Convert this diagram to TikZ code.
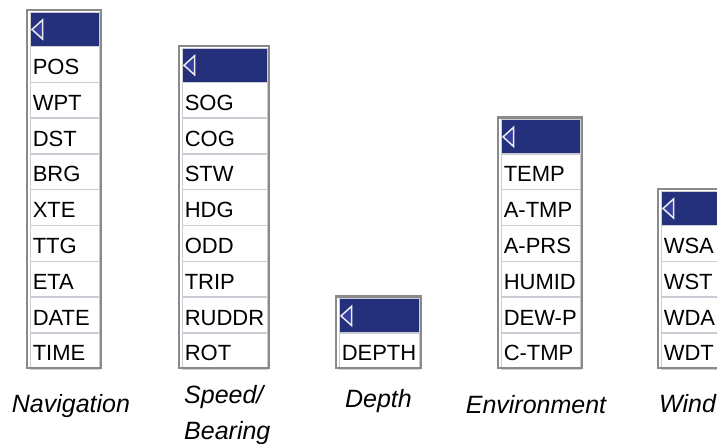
\documentclass[tikz,border=0pt]{standalone}
\usepackage{fontspec}
\setmainfont{Liberation Sans}
\usetikzlibrary{positioning}
\definecolor{hdrblue}{HTML}{25307C}
\definecolor{triblue}{HTML}{383E9E}
\definecolor{framegray}{HTML}{8A8A8A}
\definecolor{linegray}{HTML}{C8CDD4}
\tikzset{
  menuframe/.style={draw=framegray, line width=2.5bp},
  hdrbar/.style={fill=hdrblue, draw=linegray, line width=1bp, inner sep=0pt, anchor=north west},
  trimark/.style={draw=linegray!40!white, fill=triblue, line width=1.5bp, line join=miter},
  rowcell/.style={draw=linegray, line width=1.5bp, fill=white, anchor=north west,
    inner xsep=2.5bp, inner ysep=0pt, align=left, text height=20bp, text depth=0pt,
    font=\fontsize{22bp}{26bp}\selectfont},
  grouplbl/.style={inner sep=0pt, font=\fontsize{25bp}{36bp}\selectfont\itshape}
}
\begin{document}
\begin{tikzpicture}[x=1bp, y=-1bp]
  \clip (0,0) rectangle (717,444);
  \useasboundingbox (0,0) rectangle (717,444);
  % menu columns: name / left / width / rows / items, all end at y=368
  \foreach \nm/\lx/\bw/\n/\items in {
      nav/27/74/9/{POS,WPT,DST,BRG,XTE,TTG,ETA,DATE,TIME},
      spd/179/90/8/{SOG,COG,STW,HDG,ODD,TRIP,RUDDR,ROT},
      dpt/336/85/1/{DEPTH},
      env/498/84/6/{TEMP,A-TMP,A-PRS,HUMID,DEW-P,C-TMP},
      wnd/658/85/4/{WSA,WST,WDA,WDT}}
  {
    \pgfmathsetmacro\ty{368-35.8*(\n+1)}
    \pgfmathsetmacro\tw{\bw-10}
    \pgfmathsetmacro\cw{\bw-5}
    \node[hdrbar, minimum width=\cw bp, minimum height=34bp] (\nm-hdr) at (\lx+2.5,\ty+2) {};
    \draw[trimark] ([xshift=2.5bp]\nm-hdr.west) -- ++(10.5,-9.5) -- ++(0,19) -- cycle;
    \foreach \t [count=\i] in \items
      \node[rowcell, text width=\tw bp, minimum height=35.8bp] (\nm-\i) at (\lx+2.5,\ty+35.8*\i) {\t};
    \draw[menuframe] (\lx,\ty) rectangle (\lx+\bw,368);
  }
  % group names
  \node[grouplbl, anchor=base] (navlbl) at (71,412) {Navigation};
  \node[grouplbl, anchor=north west, align=left] (spdlbl) at (184,385.5) {Speed/\\Bearing};
  \node[grouplbl, anchor=base] (dptlbl) at (378.5,407) {Depth};
  \node[grouplbl, anchor=base] (envlbl) at (536,413) {Environment};
  \node[grouplbl, anchor=base west] (wndlbl) at (659,412) {Wind};
\end{tikzpicture}
\end{document}
